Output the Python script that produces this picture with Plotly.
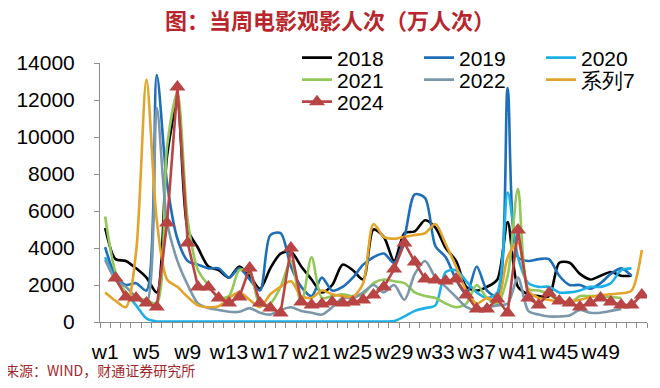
import plotly.graph_objects as go

weeks = [f"w{i}" for i in range(1, 54)]
tick_labels = ["w1", "w5", "w9", "w13", "w17", "w21", "w25", "w29", "w33", "w37", "w41", "w45", "w49"]
y_ticks = [0, 2000, 4000, 6000, 8000, 10000, 12000, 14000]
y_tick_labels = ["0", "2000", "4000", "6000", "8000", "10000", "12000", "14000"]

s2018 = [5080, 3400, 3300, 2900, 2400, 1600, 9000, 11800, 5000, 4000, 3000, 2800, 2400, 3000, 2500, 1800,
         2900, 3700, 3800, 3000, 2300, 1600, 2000, 3100, 2800, 2300, 5000, 4600, 3300, 4800, 4900, 5500,
         5100, 4000, 3300, 1900, 1700, 1900, 2300, 5400, 1900, 1500, 1400, 1400, 3200, 3200, 2600, 2300,
         2500, 2700, 2500, 2500, None]
s2019 = [4050, 2500, 2000, 2100, 1700, 13350, 7500, 4500, 3300, 3100, 2900, 2900, 2400, 2900, 2300, 1700,
         4700, 4800, 3000, 1900, 1400, 2400, 1700, 1900, 2400, 3100, 3500, 3700, 3200, 4600, 6900, 6700,
         4100, 3500, 2300, 1500, 3000, 1700, 1400, 12650, 3500, 3300, 3400, 3400, 2500, 2000, 2000, 1800,
         2100, 2600, 2900, 2500, None]
s2020 = [3500, 2300, 1600, 900, 200, 30, 30, 30, 30, 30, 30, 30, 30, 30, 30, 30,
         30, 30, 30, 30, 30, 30, 30, 30, 30, 30, 30, 30, 50, 300, 600, 750,
         900, 2700, 2800, 2200, 1600, 1300, 1600, 7000, 3500, 2100, 1900, 1900, 1600, 1600, 1700, 1900,
         1900, 2100, 2800, 2900, None]
s2021 = [5700, 2700, 1600, 1300, 1200, 1000, 9500, 12400, 5500, 2800, 2000, 1300, 1400, 2800, 2700, 900,
         1000, 1900, 3300, 1000, 3500, 1300, 1400, 1500, 1400, 1500, 2100, 2300, 2200, 2100, 1600, 1400,
         1300, 1000, 800, 1000, 2000, 1300, 1000, 2500, 7200, 1800, 1700, 1500, 1100, 1000, 1400, 1400,
         1400, 1350, 1300, None, None]
s2022 = [3350, 2300, 1900, 1350, 1000, 11560, 5400, 3300, 2000, 1000, 750, 650, 550, 550, 750, 500,
         400, 650, 800, 600, 500, 400, 800, 1300, 1300, 1600, 2000, 1600, 2000, 1200, 2600, 3300,
         2400, 1900, 1350, 800, 650, 800, 900, 1000, 2400, 600, 400, 300, 300, 350, 650, 500,
         500, 600, 700, None, None]
s2023 = [1600, 1150, 800, 3800, 13100, 5500, 2300, 1900, 1350, 900, 800, 850, 1300, 1600, 1200, 800,
         1500, 1900, 2200, 1400, 1300, 1700, 1500, 1400, 1350, 2100, 5300, 4600, 4500, 4600, 4700, 4800,
         5300, 4200, 3000, 1700, 1000, 1300, 1100, 3500, 4300, 1700, 1300, 1200, 1100, 1100, 1200, 1350,
         1450, 1500, 1550, 1700, 3900]
s2024 = [None, 2380, 1350, 1300, 1030, 810, 5350, 12700, 4270, 1890, 1890, 1300, 1030, 1350, 2920, 1030,
         760, 490, 4000, 1080, 920, 970, 1080, 1030, 1080, 1190, 1460, 1890, 2860, 4270, 3240, 2320,
         2270, 2220, 2320, 1460, 700, 700, 1240, 490, 4970, 1300, 920, 1570, 1130, 1030, 810, 1030,
         1300, 1080, 920, 920, 1460]

series = [
    ("2018", s2018, "#000000", "legend"),
    ("2019", s2019, "#1F6EB8", "legend"),
    ("2020", s2020, "#1CB0E6", "legend"),
    ("2021", s2021, "#92C85A", "legend2"),
    ("2022", s2022, "#7B97AA", "legend2"),
    ("系列7", s2023, "#E2A42A", "legend2"),
]

xpos = list(range(1, len(weeks) + 1))

fig = go.Figure()
for name, vals, color, lg in series:
    fig.add_trace(go.Scatter(
        x=xpos, y=vals, name=name, mode="lines",
        line=dict(color=color, width=2.6, shape="spline", smoothing=0.8),
        legend=lg,
    ))
fig.add_trace(go.Scatter(
    x=xpos, y=s2024, name="2024", mode="lines+markers",
    line=dict(color="#B84444", width=2.6),
    marker=dict(symbol="triangle-up", size=14, color="#B84444"),
    legend="legend3",
))

# the page body adds an 8px offset; the figure is laid out in reference pixels minus 8
OFF = 8
FW, FH = 660 - 2 * OFF, 388 - 2 * OFF
L, W, T, H = 100 - OFF, 547, 63 - OFF, 259

def px_x(p):
    return (p - OFF - L) / W

def px_y(p):
    return (T + H - (p - OFF)) / H

legend_common = dict(orientation="h", xanchor="left", yanchor="middle",
                     entrywidth=77, entrywidthmode="pixels",
                     font=dict(family="Liberation Sans", size=21, color="#000000"),
                     bgcolor="rgba(0,0,0,0)", itemwidth=30)

fig.update_layout(
    width=FW, height=FH,
    margin=dict(l=L, r=FW - L - W, t=T, b=FH - T - H, autoexpand=False),
    paper_bgcolor="white", plot_bgcolor="white",
    title=dict(text="<b>图：当周电影观影人次（万人次）</b>", x=(330 - OFF) / FW, xref="container",
               y=1 - (21 - OFF) / FH, yref="container", xanchor="center", yanchor="middle",
               font=dict(family="Noto Sans CJK SC", size=22, color="#B8262C")),
    legend=dict(x=px_x(297), y=px_y(58), **legend_common),
    legend2=dict(x=px_x(297), y=px_y(80), **legend_common),
    legend3=dict(x=px_x(297), y=px_y(102), **legend_common),
    xaxis=dict(range=[0.5, len(weeks) + 0.5], tickmode="array",
               tickvals=[weeks.index(t) + 1 for t in tick_labels], ticktext=tick_labels,
               ticks="", showgrid=False, zeroline=False, tickangle=0, automargin=False,
               showline=True, linecolor="#8C8C8C", linewidth=1,
               tickfont=dict(family="Liberation Sans", size=21, color="#000000"),
               ticklabelstandoff=11,
               minor=dict(tick0=0.5, dtick=1, ticks="outside", ticklen=5,
                          tickcolor="#8C8C8C", tickwidth=1, showgrid=False)),
    yaxis=dict(range=[0, 14000], tickmode="array", tickvals=y_ticks, ticktext=y_tick_labels,
               ticks="outside", ticklen=5, tickcolor="#8C8C8C", tickwidth=1,
               showgrid=False, zeroline=False, automargin=False,
               showline=True, linecolor="#8C8C8C", linewidth=1,
               tickfont=dict(family="Liberation Sans", size=21, color="#000000"),
               ticklabelstandoff=15),
    annotations=[dict(text="来源：WIND，财通证券研究所", xref="paper", yref="paper",
                      x=px_x(3), y=px_y(370), xanchor="left", yanchor="middle",
                      showarrow=False,
                      font=dict(family="Noto Sans CJK SC", size=14, color="#A0282C"))],
)

fig.write_html("out.html")
